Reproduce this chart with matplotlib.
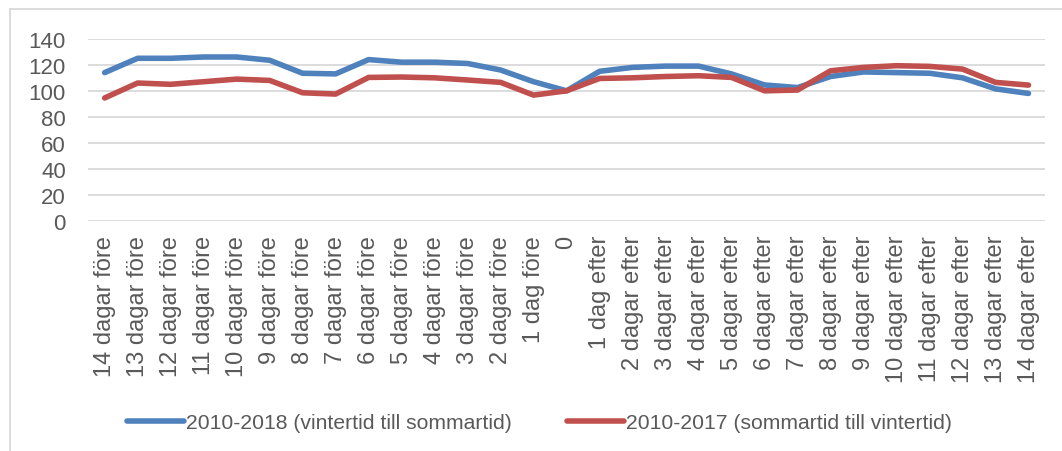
import numpy as np
import matplotlib
matplotlib.use("Agg")
import matplotlib.pyplot as plt
from matplotlib.lines import Line2D

plt.rcParams['font.family'] = ['Liberation Sans', 'DejaVu Sans']

# Kategorier (dagar kring tidsomställningen)
dagar = [f"{i} dagar före" for i in range(14, 1, -1)] + ["1 dag före", "0", "1 dag efter"] \
    + [f"{i} dagar efter" for i in range(2, 15)]

# Serie 1: vintertid -> sommartid
vinter_sommar = [114, 125, 125, 126, 126, 123.5, 113.5, 113, 124, 122, 122, 121, 116,
                 107, 100, 115, 118, 119, 119, 113, 104.5, 102.5, 111, 114.5, 114, 113.5, 110, 101.5, 98]
# Serie 2: sommartid -> vintertid
sommar_vinter = [94.5, 106, 105, 107, 109, 108, 98.5, 97.5, 110.3, 110.6, 110, 108.3, 106.5,
                 96.7, 100, 109.5, 110, 111, 111.6, 110.3, 100, 100.6, 115.4, 118, 119.3, 118.8, 116.7, 106.5, 104.4]

namn = ["2010-2018 (vintertid till sommartid)", "2010-2017 (sommartid till vintertid)"]
farger = ["#4F81BD", "#C0504D"]
grå_text = "#595959"
grid_färg = "#D9D9D9"

fig = plt.figure(figsize=(10.62, 4.52), dpi=100)
ax = fig.add_axes([0.083, 0.509, 0.901, 0.403])

x = np.arange(len(dagar))
ax.plot(x, vinter_sommar, color=farger[0], lw=4, label=namn[0], solid_capstyle='round')
ax.plot(x, sommar_vinter, color=farger[1], lw=4, label=namn[1], solid_capstyle='round')

ax.set_xlim(-0.5, len(dagar) - 0.5)
ax.set_ylim(0, 140)
ax.set_yticks(range(0, 141, 20))
ax.set_xticks(x)
ax.set_xticklabels(dagar, rotation=90, fontsize=17, color=grå_text)
ax.tick_params(axis='y', length=0, pad=16, labelsize=16, labelcolor=grå_text)
ax.tick_params(axis='x', length=0, pad=10)
ax.grid(axis='y', color=grid_färg, lw=1.3)
ax.set_axisbelow(True)
for s in ax.spines.values():
    s.set_visible(False)

# Ram runt diagrammet
fig.add_artist(Line2D([10 / 1062, 10 / 1062], [0, 1 - 10 / 452], color=grid_färg, lw=1.3))
fig.add_artist(Line2D([10 / 1062, 1], [1 - 10 / 452, 1 - 10 / 452], color=grid_färg, lw=1.3))

fig.legend(loc='center', bbox_to_anchor=(0.508, 0.062), ncol=2, frameon=False,
           fontsize=15.2, labelcolor=grå_text, handlelength=2.7, handletextpad=0.1,
           columnspacing=2.6)

fig.savefig("out.png", dpi=100)
